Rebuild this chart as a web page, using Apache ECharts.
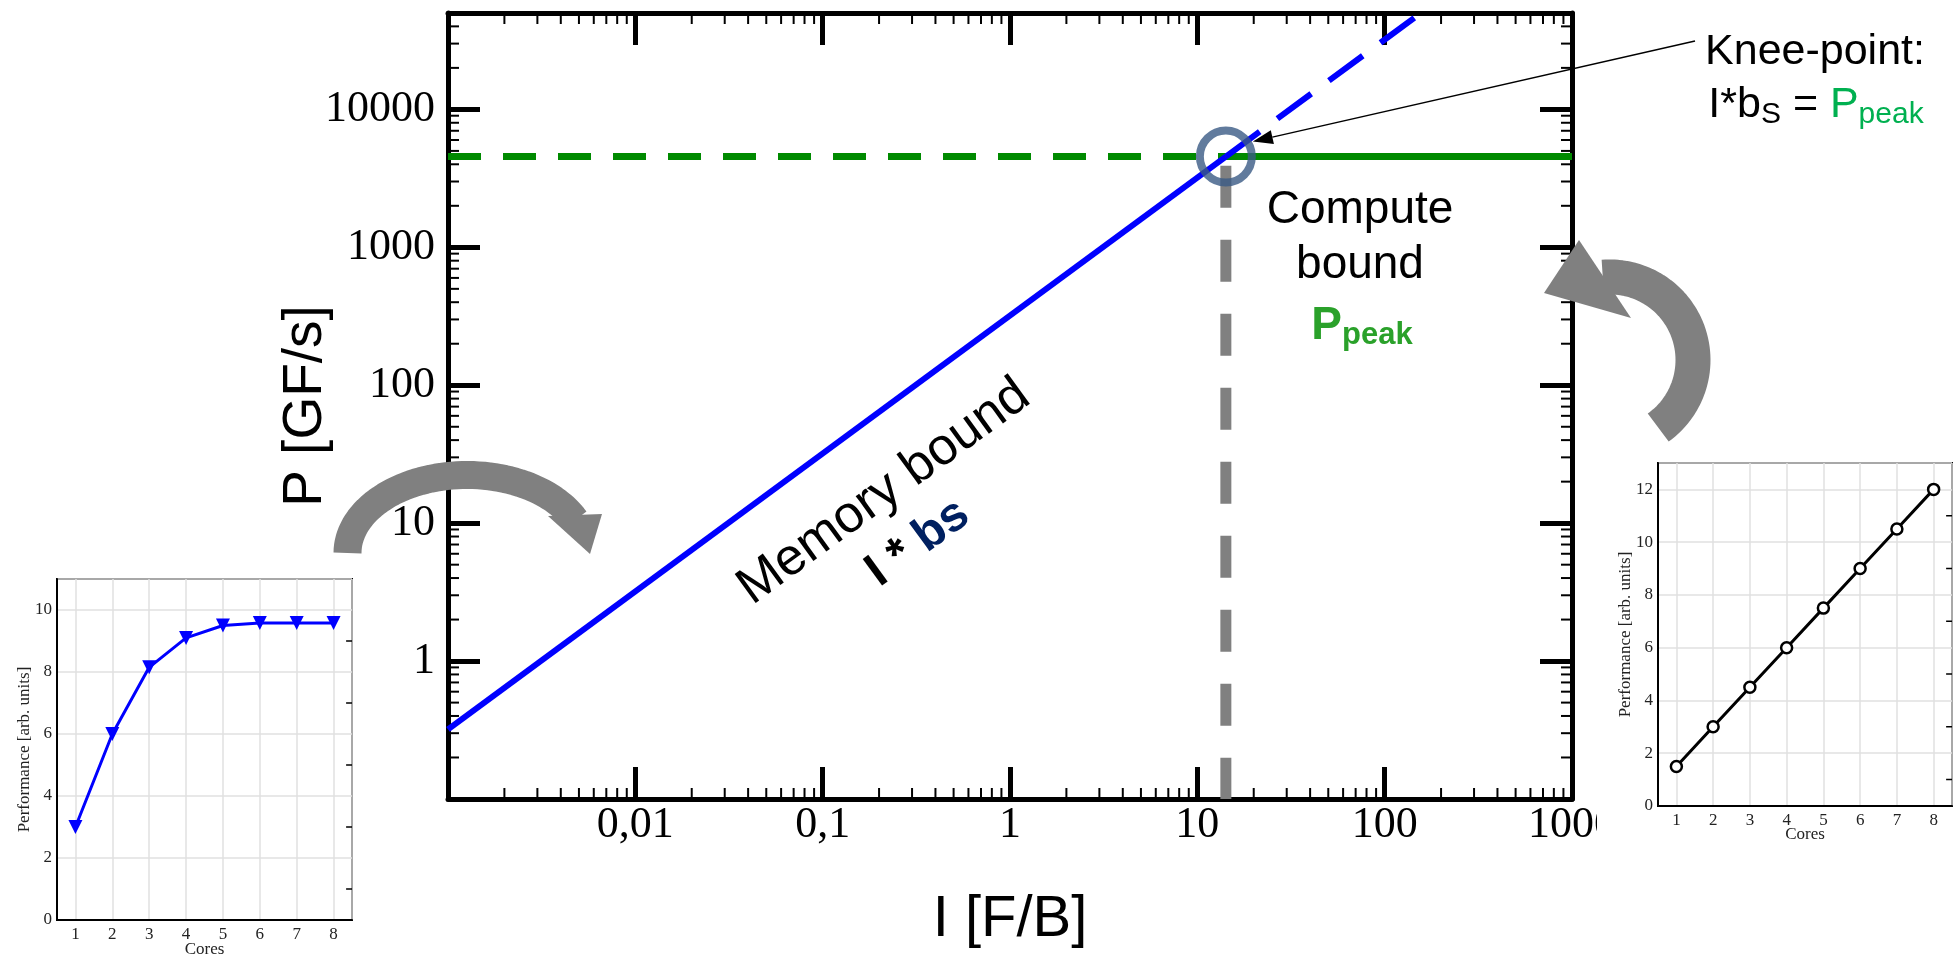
<!DOCTYPE html>
<html><head><meta charset="utf-8">
<script src="https://cdn.jsdelivr.net/npm/echarts@6/dist/echarts.min.js"></script>
<style>html,body{margin:0;padding:0;background:#fff}#c{width:1957px;height:959px}</style>
</head><body><div id="c"></div>
<script>
// ---- main roofline data ----
const memoryRoof = [[0.001, 0.32], [14.2, 4550]];
const memoryRoofExt = [[14.2, 4550], [156, 50000]];
const peakDashed = [[0.001, 4550], [14.2, 4550]];
const peakSolid = [[14.2, 4550], [1000, 4550]];
const kneeDrop = [[14.2, 3900], [14.2, 0.1]];
const kneePoint = [[14.2, 4550]];
const xTickValues = [0.01, 0.1, 1, 10, 100, 1000];
const xTickLabels = ['0,01', '0,1', '1', '10', '100', '1000'];
const yTickValues = [1, 10, 100, 1000, 10000];
const yTickLabels = ['1', '10', '100', '1000', '10000'];
const minorMultipliers = [2, 3, 4, 5, 6, 7, 8, 9];
const xDecades = [0.001, 0.01, 0.1, 1, 10, 100];
const yDecades = [0.1, 1, 10, 100, 1000, 10000];
// ---- inset data ----
const cores = [1, 2, 3, 4, 5, 6, 7, 8];
const saturatingPerf = [3.0, 6.0, 8.15, 9.1, 9.5, 9.58, 9.58, 9.58];
const linearPerf = [1.5, 3.0, 4.5, 6.0, 7.5, 9.0, 10.5, 12.0];
const leftInsetYTicks = [0, 2, 4, 6, 8, 10];
const rightInsetYTicks = [0, 2, 4, 6, 8, 10, 12];
const leftInsetMinor = [1, 3, 5, 7, 9];
const rightInsetMinor = [1, 3, 5, 7, 9, 11];

const SANS = 'Liberation Sans';
const SERIF = 'Liberation Serif';

const X_MIN = 0.001, X_MAX = 1000, Y_MIN = 0.1, Y_MAX = 50000;

function logFmt(values, labels) {
  return function (v) {
    for (let i = 0; i < values.length; i++) {
      if (Math.abs(Math.log10(v) - Math.log10(values[i])) < 1e-6) return labels[i];
    }
    return '';
  };
}
function listFmt(values) {
  return function (v) {
    for (let i = 0; i < values.length; i++) if (Math.abs(v - values[i]) < 1e-9) return String(values[i]);
    return '';
  };
}

const GAP = ['-', '-'];
function insetTickSegs(vals) {
  const out = [];
  vals.forEach(v => out.push([8.5, v], [8.34, v], GAP));
  return out;
}

const chart = echarts.init(document.getElementById('c'), null, {renderer: 'canvas'});

const mainAxisLine = {show: true, onZero: false, lineStyle: {color: '#000', width: 5}};
const mainTick = {show: true, inside: true, length: 32, lineStyle: {color: '#000', width: 5}};

function insetX(gridIndex, gap) {
  return {
    type: 'value', gridIndex: gridIndex, min: 0.5, max: 8.5, splitNumber: 8,
    axisLine: {show: true, onZero: false, lineStyle: {color: '#000', width: 2}},
    axisTick: {show: false},
    axisLabel: {formatter: listFmt(cores), fontFamily: SERIF, fontSize: 17, color: '#222', margin: 6},
    splitLine: {show: true, lineStyle: {color: '#e0e0e0', width: 1.5}},
    name: 'Cores', nameLocation: 'middle', nameGap: gap, nameMoveOverlap: false,
    nameTextStyle: {fontFamily: SERIF, fontSize: 17, color: '#222'}
  };
}
function insetY(gridIndex, max, ticks) {
  return {
    type: 'value', gridIndex: gridIndex, min: 0, max: max, interval: 2,
    axisLine: {show: true, onZero: false, lineStyle: {color: '#000', width: 2}},
    axisTick: {show: false},
    axisLabel: {formatter: listFmt(ticks), fontFamily: SERIF, fontSize: 17, color: '#222', margin: 5},
    splitLine: {show: true, lineStyle: {color: '#e0e0e0', width: 1.5}},
    name: 'Performance [arb. units]', nameLocation: 'middle', nameGap: 24, nameMoveOverlap: false,
    nameTextStyle: {fontFamily: SERIF, fontSize: 17, color: '#222'}
  };
}

const option = {
  backgroundColor: '#fff',
  animation: false,
  grid: [
    {left: 448, top: 13, width: 1124, height: 786},
    {left: 57, top: 579, width: 295, height: 343, show: true, borderColor: '#000', borderWidth: 2, backgroundColor: '#fff'},
    {left: 1658, top: 463, width: 294, height: 343, show: true, borderColor: '#000', borderWidth: 2, backgroundColor: '#fff'}
  ],
  xAxis: [
    {type: 'log', logBase: 10, gridIndex: 0, min: X_MIN, max: X_MAX, position: 'bottom',
     axisLine: mainAxisLine, axisTick: mainTick, splitLine: {show: false}, minorTick: {show: false},
     axisLabel: {formatter: logFmt(xTickValues, xTickLabels), fontFamily: SERIF, fontSize: 44, color: '#000', margin: 4},
     name: 'I [F/B]', nameLocation: 'middle', nameGap: 92, nameMoveOverlap: false,
     nameTextStyle: {fontFamily: SANS, fontSize: 58, color: '#000'}},
    {type: 'log', logBase: 10, gridIndex: 0, min: X_MIN, max: X_MAX, position: 'top',
     axisLine: mainAxisLine, axisTick: mainTick, splitLine: {show: false}, axisLabel: {show: false}},
    insetX(1, 21),
    insetX(2, 20)
  ],
  yAxis: [
    {type: 'log', logBase: 10, gridIndex: 0, min: Y_MIN, max: Y_MAX, position: 'left',
     axisLine: mainAxisLine, axisTick: mainTick, splitLine: {show: false},
     axisLabel: {formatter: logFmt(yTickValues, yTickLabels), fontFamily: SERIF, fontSize: 44, color: '#000', margin: 13},
     name: 'P [GF/s]', nameLocation: 'middle', nameGap: 115, nameMoveOverlap: false,
     nameTextStyle: {fontFamily: SANS, fontSize: 55, color: '#000'}},
    {type: 'log', logBase: 10, gridIndex: 0, min: Y_MIN, max: Y_MAX, position: 'right',
     axisLine: mainAxisLine, axisTick: mainTick, splitLine: {show: false}, axisLabel: {show: false}},
    insetY(1, 11, leftInsetYTicks),
    insetY(2, 13, rightInsetYTicks)
  ],
  series: [
    {type: 'line', name: 'kneeDrop', xAxisIndex: 0, yAxisIndex: 0, data: kneeDrop, symbol: 'none',
     lineStyle: {color: '#808080', width: 11, type: [42, 32], cap: 'butt'}, z: 3},
    {type: 'line', name: 'peakDashed', xAxisIndex: 0, yAxisIndex: 0, data: peakDashed, symbol: 'none',
     lineStyle: {color: '#008a00', width: 7, type: [33, 22]}, z: 4},
    {type: 'line', name: 'peakSolid', xAxisIndex: 0, yAxisIndex: 0, data: peakSolid, symbol: 'none',
     lineStyle: {color: '#008a00', width: 7}, z: 4},
    {type: 'line', name: 'memoryRoof', xAxisIndex: 0, yAxisIndex: 0, data: memoryRoof, symbol: 'none',
     lineStyle: {color: '#0000ff', width: 6}, z: 5},
    {type: 'line', name: 'memoryRoofExt', xAxisIndex: 0, yAxisIndex: 0, data: memoryRoofExt, symbol: 'none',
     lineStyle: {color: '#0000ff', width: 6, type: [42, 22]}, z: 5},
    {type: 'scatter', name: 'knee', xAxisIndex: 0, yAxisIndex: 0, data: kneePoint, symbol: 'circle', symbolSize: 52,
     itemStyle: {color: 'rgba(0,0,0,0)', borderColor: '#3a5a85', borderWidth: 8}, z: 6, silent: true},
    // left inset
    {type: 'line', xAxisIndex: 2, yAxisIndex: 2, data: cores.map((c, i) => [c, saturatingPerf[i]]),
     symbol: 'triangle', symbolRotate: 180, symbolSize: 14, itemStyle: {color: '#0000ff'},
     lineStyle: {color: '#0000ff', width: 3}, z: 5},
    {type: 'line', xAxisIndex: 2, yAxisIndex: 2, data: insetTickSegs(leftInsetMinor), symbol: 'none',
     connectNulls: false, silent: true, lineStyle: {color: '#000', width: 1.5}, z: 6},
    // right inset
    {type: 'line', xAxisIndex: 3, yAxisIndex: 3, data: cores.map((c, i) => [c, linearPerf[i]]),
     symbol: 'circle', symbolSize: 11, itemStyle: {color: '#fff', borderColor: '#000', borderWidth: 2.5},
     lineStyle: {color: '#000', width: 3}, z: 5},
    {type: 'line', xAxisIndex: 3, yAxisIndex: 3, data: insetTickSegs(rightInsetMinor), symbol: 'none',
     connectNulls: false, silent: true, lineStyle: {color: '#000', width: 1.5}, z: 6}
  ]
};
chart.setOption(option);

// minor log ticks on all four borders, placed through the main axes' own scales
const MAIN = {xAxisIndex: 0, yAxisIndex: 0};
const pLo = chart.convertToPixel(MAIN, [X_MIN, Y_MIN]);
const pHi = chart.convertToPixel(MAIN, [X_MAX, Y_MAX]);
const TL = 11;
const tickStyle = {stroke: '#000', lineWidth: 2};
const tickEls = [];
xDecades.forEach(d => minorMultipliers.forEach(m => {
  const px = chart.convertToPixel(MAIN, [d * m, Y_MIN])[0];
  tickEls.push({type: 'line', z: 90, silent: true, shape: {x1: px, y1: pLo[1], x2: px, y2: pLo[1] - TL}, style: tickStyle});
  tickEls.push({type: 'line', z: 90, silent: true, shape: {x1: px, y1: pHi[1], x2: px, y2: pHi[1] + TL}, style: tickStyle});
}));
yDecades.forEach(d => minorMultipliers.forEach(m => {
  const v = d * m;
  if (v >= Y_MAX) return;
  const py = chart.convertToPixel(MAIN, [X_MIN, v])[1];
  tickEls.push({type: 'line', z: 90, silent: true, shape: {x1: pLo[0], y1: py, x2: pLo[0] + TL, y2: py}, style: tickStyle});
  tickEls.push({type: 'line', z: 90, silent: true, shape: {x1: pHi[0], y1: py, x2: pHi[0] - TL, y2: py}, style: tickStyle});
}));

function arcPoints(cx, cy, rx, ry, a0, a1, n) {
  const pts = [];
  for (let i = 0; i <= n; i++) {
    const t = (a0 + (a1 - a0) * i / n) * Math.PI / 180;
    pts.push([cx + rx * Math.cos(t), cy + ry * Math.sin(t)]);
  }
  return pts;
}
const leftArc = arcPoints(467, 553, 119.5, 78, 180, 335, 60);
const rightArc = arcPoints(1610, 360, 83, 83, 54.5, -95, 60);

const knee = chart.convertToPixel(MAIN, kneePoint[0]);
const tip = [knee[0] + 27, knee[1] - 15];
const start = [1695, 41];
const dx = tip[0] - start[0], dy = tip[1] - start[1];
const len = Math.sqrt(dx * dx + dy * dy);
const ux = dx / len, uy = dy / len;
const hl = 20, hw = 7;
const bx = tip[0] - ux * hl, by = tip[1] - uy * hl;
const rot = 36 * Math.PI / 180;

chart.setOption({
  graphic: tickEls.concat([
    {type: 'rect', z: 50, shape: {x: 1597, y: 802, width: 45, height: 50}, style: {fill: '#fff'}},
    {type: 'polyline', z: 100, shape: {points: leftArc},
     style: {fill: null, stroke: '#808080', lineWidth: 28, lineCap: 'butt', lineJoin: 'round'}},
    {type: 'polygon', z: 100, shape: {points: [[548, 516], [602, 514], [590, 554]]}, style: {fill: '#808080'}},
    {type: 'polyline', z: 100, shape: {points: rightArc},
     style: {fill: null, stroke: '#808080', lineWidth: 35, lineCap: 'butt', lineJoin: 'round'}},
    {type: 'polygon', z: 100, shape: {points: [[1579, 240], [1631, 318], [1544, 293]]}, style: {fill: '#808080'}},
    {type: 'line', z: 100, shape: {x1: start[0], y1: start[1], x2: bx, y2: by}, style: {stroke: '#000', lineWidth: 1.5}},
    {type: 'polygon', z: 100, shape: {points: [[tip[0], tip[1]], [bx - uy * hw, by + ux * hw], [bx + uy * hw, by - ux * hw]]}, style: {fill: '#000'}},
    {type: 'text', z: 100, x: 1815, y: 52, style: {text: 'Knee-point:', fontFamily: SANS, fontSize: 43, fill: '#000', align: 'center', verticalAlign: 'middle'}},
    {type: 'text', z: 100, x: 1816, y: 84, style: {
      text: '{a|I*b}{s|S}{a| = }{g|P}{gs|peak}', align: 'center', verticalAlign: 'top',
      rich: {
        a: {fontFamily: SANS, fontSize: 43, fill: '#000', lineHeight: 46, verticalAlign: 'top'},
        s: {fontFamily: SANS, fontSize: 30, fill: '#000', lineHeight: 24, verticalAlign: 'bottom'},
        g: {fontFamily: SANS, fontSize: 43, fill: '#00b050', lineHeight: 46, verticalAlign: 'top'},
        gs: {fontFamily: SANS, fontSize: 30, fill: '#00b050', lineHeight: 24, verticalAlign: 'bottom'}
      }}},
    {type: 'text', z: 100, x: 1360, y: 210, style: {text: 'Compute', fontFamily: SANS, fontSize: 46, fill: '#000', align: 'center', verticalAlign: 'middle'}},
    {type: 'text', z: 100, x: 1360, y: 265, style: {text: 'bound', fontFamily: SANS, fontSize: 46, fill: '#000', align: 'center', verticalAlign: 'middle'}},
    {type: 'text', z: 100, x: 1362, y: 303, style: {
      text: '{p|P}{q|peak}', align: 'center', verticalAlign: 'top',
      rich: {
        p: {fontFamily: SANS, fontWeight: 'bold', fontSize: 46, fill: '#2aa12a', lineHeight: 48, verticalAlign: 'top'},
        q: {fontFamily: SANS, fontWeight: 'bold', fontSize: 31, fill: '#2aa12a', lineHeight: 22, verticalAlign: 'bottom'}
      }}},
    {type: 'text', z: 100, x: 884, y: 492, rotation: rot, style: {text: 'Memory bound', fontFamily: SANS, fontSize: 52, fill: '#000', align: 'center', verticalAlign: 'middle'}},
    {type: 'text', z: 100, x: 918, y: 543, rotation: rot, style: {
      text: '{a|I * }{b|bs}', align: 'center', verticalAlign: 'middle',
      rich: {
        a: {fontFamily: SANS, fontWeight: 'bold', fontSize: 48, fill: '#000'},
        b: {fontFamily: SANS, fontWeight: 'bold', fontSize: 48, fill: '#002060'}
      }}}
  ])
});
</script>
</body></html>
